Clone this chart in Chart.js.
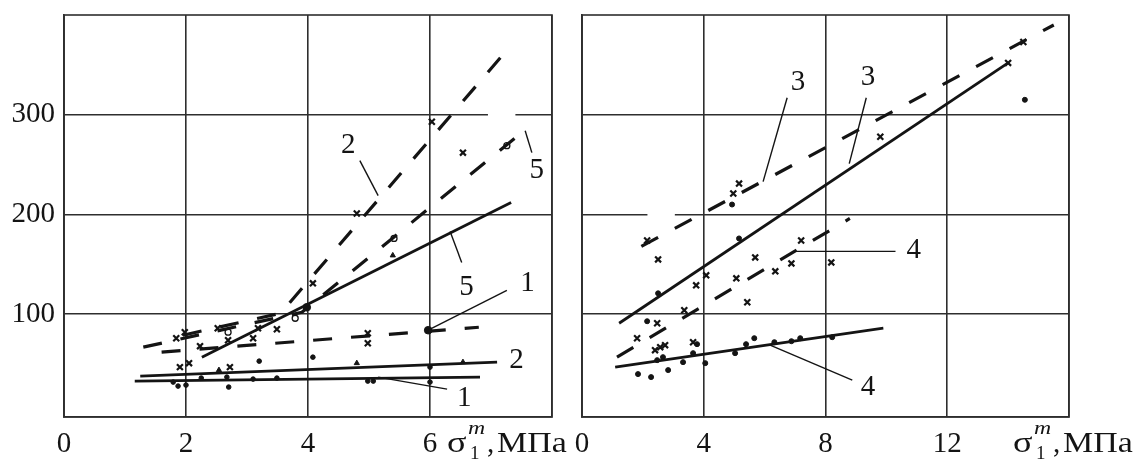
<!DOCTYPE html>
<html>
<head>
<meta charset="utf-8">
<script src="https://cdn.jsdelivr.net/npm/chart.js@4/dist/chart.umd.min.js"></script>
<style>
  html, body { margin: 0; padding: 0; background: #fff; }
  #wrap { position: relative; width: 1138px; height: 462px; overflow: hidden; }
  #cLeft { position: absolute; left: 0; top: 0; }
  #cRight { position: absolute; left: 575px; top: 0; }
</style>
</head>
<body>
<div id="wrap">
  <canvas id="cLeft" width="575" height="462"></canvas>
  <canvas id="cRight" width="563" height="462"></canvas>
</div>
<script>
// ---------- tick values ----------
const leftXTicks  = [0, 2, 4, 6];
const rightXTicks = [0, 4, 8, 12];
const yTicks      = [100, 200, 300];

// ---------- left panel: fitted lines ----------
const l1SolidX = [1.16, 6.82], l1SolidY = [33, 37];
const l1DashX  = [1.6, 6.8],   l1DashY  = [62, 87];
const l2SolidX = [1.25, 7.1],  l2SolidY = [38, 52];
const l2DashX  = [1.95, 3.55, 7.25], l2DashY = [79, 101, 364];
const l5SolidX = [2.26, 7.33], l5SolidY = [57, 212];
const l5DashX  = [1.3, 3.9, 7.62],   l5DashY = [67, 102, 288];

// ---------- left panel: measured points ----------
const leftCrossX = [1.98, 1.84, 2.23, 2.52, 2.69, 3.1, 3.18, 3.49, 1.9, 2.05, 2.72, 4.08, 4.8, 4.98, 4.98, 6.03, 6.54];
const leftCrossY = [82,   76,   68,   86,   74,   76,  86,   85,   47,  51,   47,   131,  201, 81,   71,   293,  262];
const leftRingX  = [7.26, 5.41, 3.79, 2.69];
const leftRingY  = [269,  176,  96,   82];
const leftTriX   = [5.39, 4.8, 6.54, 2.54];
const leftTriY   = [159,  51,  52,   44];
const leftDotX   = [3.2, 4.08, 2.25, 1.87, 2.0, 1.79, 2.67, 2.7, 3.1, 3.49, 4.98, 5.07, 6.0, 6.0];
const leftDotY   = [53,  57,   36,   28,   29,  32,   37,   27,  35,  36,   33,   33,   47,  32];
const leftBigDotX = [5.97, 3.98];
const leftBigDotY = [84,   107];

// ---------- right panel: fitted lines ----------
const l3SolidX = [1.22, 14.0], l3SolidY = [91, 352];
const l3DashX  = [1.95, 15.5], l3DashY  = [168, 390];
const l4SolidX = [1.09, 9.9],  l4SolidY = [47, 86];
const l4DashX  = [1.15, 8.8],  l4DashY  = [57, 196];

// ---------- right panel: measured points ----------
const rightCrossX = [5.16, 4.97, 2.14, 2.5, 4.08, 3.75, 3.36, 5.69, 5.07, 6.35, 6.88, 7.2, 8.19, 5.43, 2.47, 1.81, 2.4, 2.57, 2.73, 3.65, 14.0, 14.5, 9.8];
const rightCrossY = [231,  221,  174,  155, 139,  129,  104,  157,  136,  143,  151,  174, 152,  112,  91,   76,   64,  67,   69,   72,   352,  373,  278];
const rightDotX = [4.93, 5.16, 2.14, 1.84, 2.27, 2.83, 2.47, 2.66, 3.32, 3.65, 4.05, 3.78, 5.03, 5.39, 5.66, 6.32, 6.88, 7.17, 8.22, 2.5, 14.55];
const rightDotY = [210,  176,  93,   40,   37,   44,   54,   57,   52,   61,   51,   70,   61,   70,   76,   72,   73,   76,   77,   121, 315];

// ---------- curve labels with leader lines (data coordinates) ----------
const leftNotes = [
  { t: '2', x: 4.66, y: 269, from: [4.85, 254], to: [5.15, 219] },
  { t: '5', x: 7.75, y: 244, from: [7.67, 262], to: [7.56, 284] },
  { t: '5', x: 6.6,  y: 127, from: [6.52, 152], to: [6.33, 183] },
  { t: '1', x: 7.6,  y: 131, from: [7.26, 124], to: [5.97, 84] },
  { t: '2', x: 7.42, y: 54,  from: null, to: null },
  { t: '1', x: 6.56, y: 16,  from: [6.28, 25], to: [5.15, 37] }
];
const rightNotes = [
  { t: '3', x: 7.1,  y: 332, from: [6.74, 317], to: [5.95, 233] },
  { t: '3', x: 9.4,  y: 337, from: [9.34, 317], to: [8.78, 251] },
  { t: '4', x: 10.9, y: 164, from: [10.3, 163], to: [7.0, 163] },
  { t: '4', x: 9.4,  y: 27,  from: [8.88, 34], to: [6.18, 69] }
];

const INK = '#141414';
const GRID = '#2e2e2e';
const FONT = '"Liberation Serif", "DejaVu Serif", serif';

function pts(xs, ys) { return xs.map((x, i) => ({ x: x, y: ys[i] })); }

function lineSet(xs, ys, dashed) {
  return {
    type: 'line', data: pts(xs, ys), showLine: true, pointRadius: 0,
    borderColor: INK, borderWidth: dashed ? 3.2 : 2.8,
    borderDash: dashed ? [19, 19] : [], borderCapStyle: 'butt',
    tension: 0, fill: false, order: 1
  };
}
function markSet(xs, ys, style, radius, filled, bw) {
  return {
    type: 'scatter', data: pts(xs, ys), showLine: false,
    pointStyle: style, pointRadius: radius, pointHoverRadius: radius,
    pointBorderColor: INK, pointBackgroundColor: filled ? INK : '#fff',
    pointBorderWidth: bw, order: 2
  };
}

// draws text squeezed/stretched horizontally by sx
function wideText(ctx, text, x, y, sx) {
  ctx.save();
  ctx.translate(x, y);
  ctx.scale(sx, 1);
  ctx.fillText(text, 0, 0);
  ctx.restore();
}

// plot frame, small white breaks in grid lines, curve labels and axis caption
const decor = {
  id: 'decor',
  beforeDatasetsDraw(chart, args, opts) {
    const ctx = chart.ctx, xs = chart.scales.x, ys = chart.scales.y;
    ctx.save();
    ctx.fillStyle = '#fff';
    (opts.breaks || []).forEach(b => {
      const x1 = xs.getPixelForValue(b[0]), x2 = xs.getPixelForValue(b[1]);
      const y = ys.getPixelForValue(b[2]);
      ctx.fillRect(x1, y - 2, x2 - x1, 4);
    });
    ctx.restore();
  },
  afterDraw(chart, args, opts) {
    const ctx = chart.ctx, a = chart.chartArea;
    const xs = chart.scales.x, ys = chart.scales.y;
    ctx.save();
    ctx.strokeStyle = GRID; ctx.lineWidth = 1.6;
    ctx.strokeRect(a.left, a.top, a.right - a.left, a.bottom - a.top);

    ctx.fillStyle = INK; ctx.strokeStyle = INK; ctx.lineWidth = 1.4;
    ctx.font = '29px ' + FONT;
    ctx.textAlign = 'center'; ctx.textBaseline = 'middle';
    (opts.notes || []).forEach(n => {
      if (n.from) {
        ctx.beginPath();
        ctx.moveTo(xs.getPixelForValue(n.from[0]), ys.getPixelForValue(n.from[1]));
        ctx.lineTo(xs.getPixelForValue(n.to[0]), ys.getPixelForValue(n.to[1]));
        ctx.stroke();
      }
      ctx.fillText(n.t, xs.getPixelForValue(n.x), ys.getPixelForValue(n.y));
    });

    // axis caption: sigma with superscript m and subscript 1, then units
    const cx = a.right + opts.capDx;
    const base = opts.capBase;
    ctx.textAlign = 'left'; ctx.textBaseline = 'alphabetic';
    ctx.font = '29px ' + FONT;
    wideText(ctx, 'σ', cx, base, 1.25);
    ctx.font = 'italic 19px ' + FONT;
    wideText(ctx, 'm', cx + 21, base - 18, 1.25);
    ctx.font = '19px ' + FONT;
    ctx.fillText('1', cx + 23, base + 7);
    ctx.font = '29px ' + FONT;
    ctx.fillText(',', cx + 40, base);
    wideText(ctx, 'МПа', cx + 50, base, 1.17);
    ctx.restore();
  }
};

function makeScales(xMax, xTicks, yWidth, showY) {
  return {
    x: {
      type: 'linear', min: 0, max: xMax,
      afterBuildTicks: s => { s.ticks = xTicks.map(v => ({ value: v })); },
      afterFit: s => { s.height = 45; s.paddingLeft = 0; s.paddingRight = 0; },
      ticks: {
        color: INK, font: { family: FONT, size: 29 }, padding: 10, maxRotation: 0, autoSkip: false,
        callback: v => (v === xMax ? '' : v)
      },
      grid: { color: GRID, lineWidth: 1.6, drawTicks: false },
      border: { display: true, color: GRID, width: 1.6 }
    },
    y: {
      type: 'linear', min: -3, max: 400,
      afterBuildTicks: s => { s.ticks = yTicks.map(v => ({ value: v })); },
      afterFit: s => { s.width = yWidth; s.paddingTop = 0; s.paddingBottom = 0; },
      ticks: { display: showY, color: INK, font: { family: FONT, size: 29 }, padding: 9 },
      grid: { color: GRID, lineWidth: 1.6, drawTicks: false },
      border: { display: true, color: GRID, width: 1.6 }
    }
  };
}

const common = {
  responsive: false, animation: false, devicePixelRatio: 1,
  events: []
};

new Chart(document.getElementById('cLeft'), {
  type: 'scatter',
  data: {
    datasets: [
      lineSet(l1SolidX, l1SolidY, false),
      lineSet(l1DashX, l1DashY, true),
      lineSet(l2SolidX, l2SolidY, false),
      lineSet(l2DashX, l2DashY, true),
      lineSet(l5SolidX, l5SolidY, false),
      lineSet(l5DashX, l5DashY, true),
      markSet(leftCrossX, leftCrossY, 'crossRot', 4.2, false, 2.2),
      markSet(leftRingX, leftRingY, 'circle', 3, false, 1.3),
      markSet(leftTriX, leftTriY, 'triangle', 3, true, 1),
      markSet(leftDotX, leftDotY, 'circle', 2.3, true, 1),
      markSet(leftBigDotX, leftBigDotY, 'circle', 3.8, true, 1)
    ]
  },
  options: Object.assign({}, common, {
    layout: { padding: { top: 15, right: 23, left: 0, bottom: 0 } },
    scales: makeScales(8, [0, 2, 4, 6, 8], 64, true),
    plugins: {
      legend: { display: false }, tooltip: { enabled: false },
      decor: { notes: leftNotes, capDx: -105, capBase: 452, breaks: [[6.95, 7.4, 300]] }
    }
  }),
  plugins: [decor]
});

new Chart(document.getElementById('cRight'), {
  type: 'scatter',
  data: {
    datasets: [
      lineSet(l3SolidX, l3SolidY, false),
      lineSet(l3DashX, l3DashY, true),
      lineSet(l4SolidX, l4SolidY, false),
      lineSet(l4DashX, l4DashY, true),
      markSet(rightCrossX, rightCrossY, 'crossRot', 4.2, false, 2.2),
      markSet(rightDotX, rightDotY, 'circle', 2.5, true, 1)
    ]
  },
  options: Object.assign({}, common, {
    layout: { padding: { top: 15, right: 69, left: 0, bottom: 0 } },
    scales: makeScales(16, [0, 4, 8, 12, 16], 7, false),
    plugins: {
      legend: { display: false }, tooltip: { enabled: false },
      decor: { notes: rightNotes, capDx: -56, capBase: 452, breaks: [[2.15, 3.05, 200]] }
    }
  }),
  plugins: [decor]
});
</script>
</body>
</html>
